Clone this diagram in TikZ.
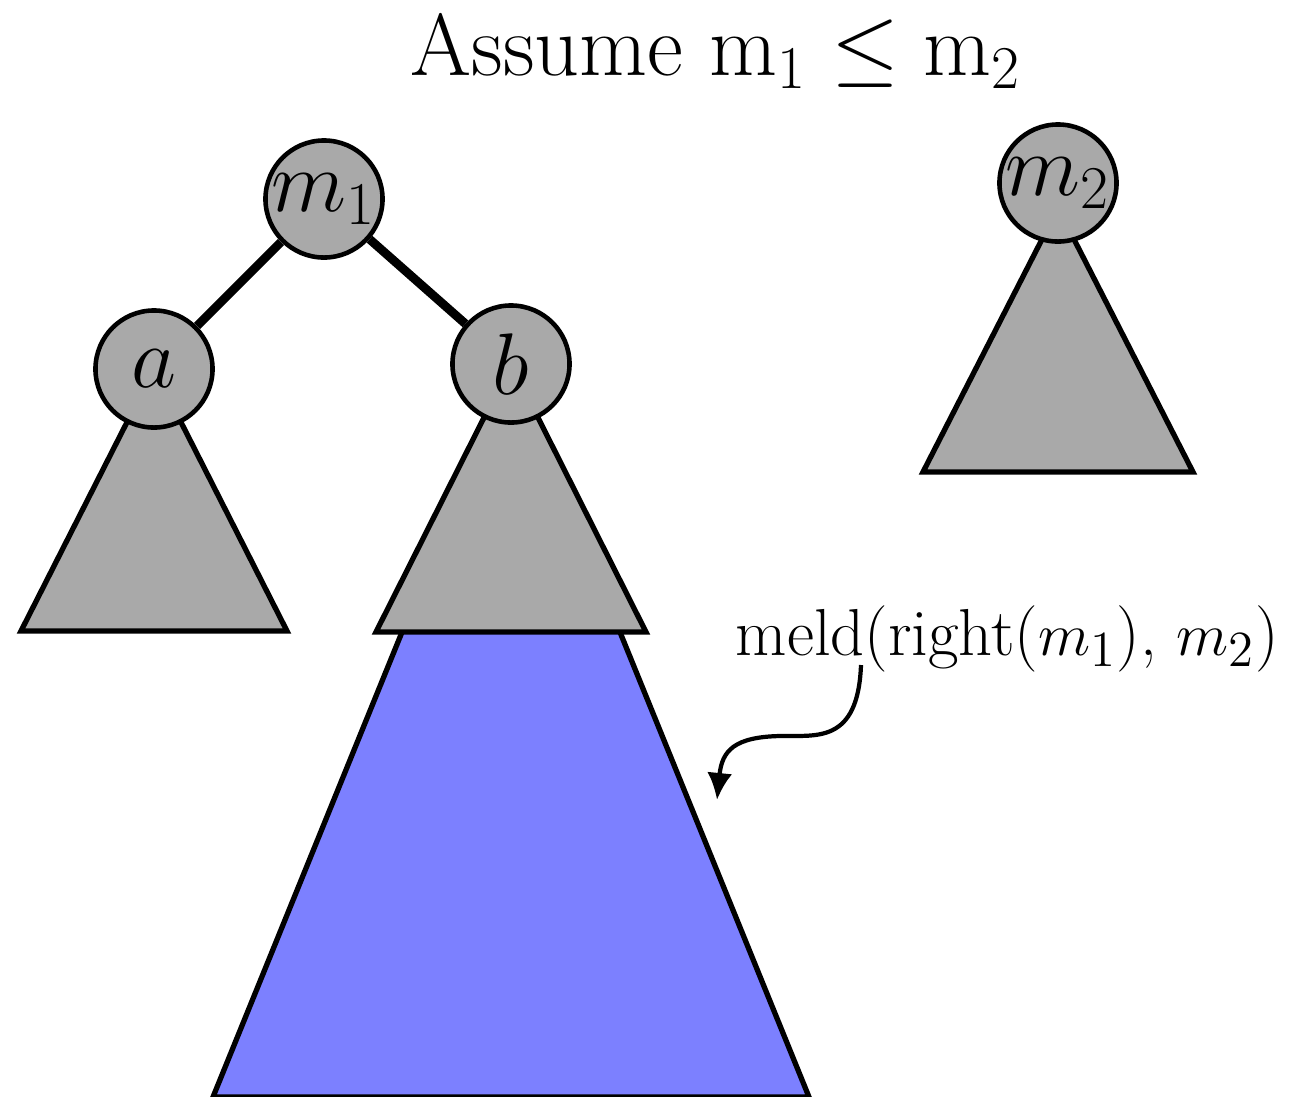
\documentclass[tikz,border=0pt]{standalone}
\usepackage{fontspec}
\usepackage{tikz}
\usetikzlibrary{arrows.meta,calc,backgrounds}
\definecolor{nodegray}{RGB}{169,169,169}
\definecolor{meldblue}{RGB}{124,128,255}

\begin{document}
\begin{tikzpicture}[
  x=0.01cm, y=-0.01cm,
  hn/.style={circle,draw,fill=nodegray,line width=1.3pt,
    minimum size=1.17cm,inner sep=0pt,font=\fontsize{26}{30}\selectfont},
  tri/.style={draw,fill=nodegray,line width=1.5pt},
  sub/.style={draw,fill=meldblue,line width=1.5pt},
  ed/.style={line width=2.5pt},
  ar/.style={-{Latex[length=0.27cm,width=0.25cm]},line width=1.2pt}
]
\useasboundingbox (0,0) rectangle (1290,1096);

\node[font=\fontsize{25}{30}\selectfont,anchor=base] (ttl) at (716,75)
  {Assume $\mathrm{m}_1 \leq \mathrm{m}_2$};

\node[hn] (m1) at (324,199) {$m_1$};
\node[hn] (a)  at (154,369) {$a$};
\node[hn] (b)  at (511,364) {$b$};
\node[hn] (m2) at (1058,183) {$m_2$};

\node[font=\fontsize{18.9}{22}\selectfont,anchor=base west,inner sep=0pt] (meld)
  at (735,655) {meld(right($m_1$), $m_2$)};
\coordinate (tail) at (861,665);
\coordinate (tip)  at (717,800);

\begin{scope}[on background layer]
\draw[sub] (b.center) -- ++(-298,733) -- ++(596,0) -- cycle;
\draw[tri] (a.center) -- ++(-133,262) -- ++(266,0) -- cycle;
\draw[tri] (b.center) -- ++(-135,268) -- ++(270,0) -- cycle;
\draw[tri] ($(m2.center)+(0,25)$) -- ++(-135,264) -- ++(270,0) -- cycle;
\end{scope}

\draw[ed] (m1) -- (a);
\draw[ed] (m1) -- (b);

\draw[ar] (tail) .. controls (858,745) and (815,735) .. (780,736)
  .. controls (735,737) and (722,750) .. (tip);
\end{tikzpicture}
\end{document}
